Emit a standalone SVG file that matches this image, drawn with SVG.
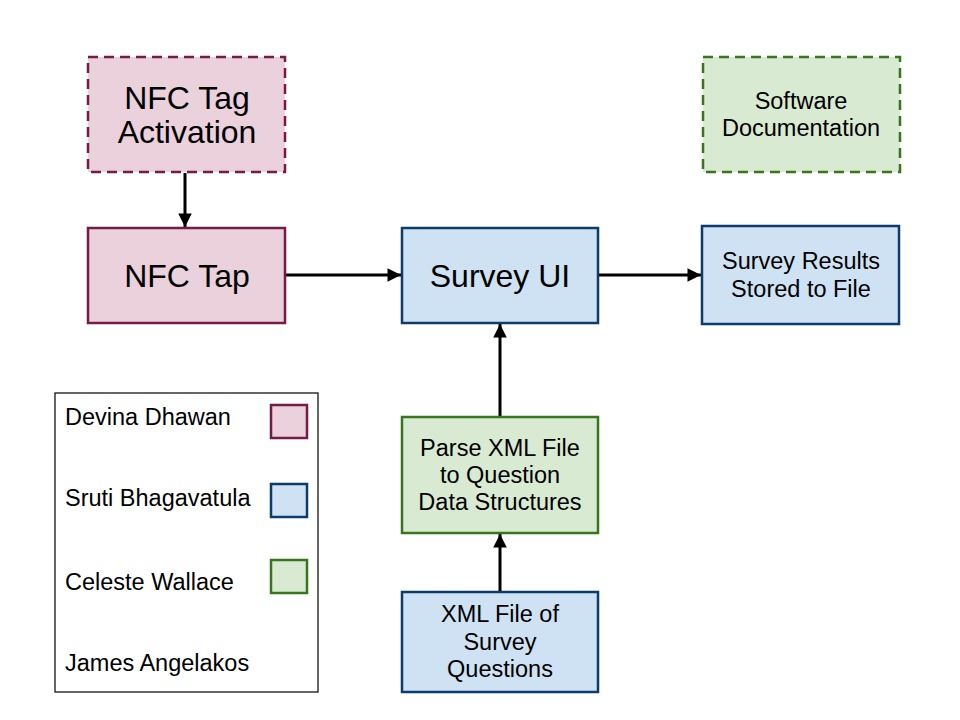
<svg xmlns="http://www.w3.org/2000/svg" width="960" height="720" viewBox="0 0 960 720">
<style>
text{font-family:"Liberation Sans",Arial,sans-serif;fill:#000;text-anchor:middle}
.big{font-size:32px}
.med{font-size:23.5px}
.leg{font-size:23.5px;text-anchor:start}
.pink{fill:#ead1dc;stroke:#741b47;stroke-width:2.5}
.blue{fill:#cfe2f3;stroke:#0b3c6b;stroke-width:2.5}
.green{fill:#d9ead3;stroke:#38761d;stroke-width:2.5}
.dash{stroke-dasharray:10,6}
.conn{stroke:#000;stroke-width:3;fill:none;marker-end:url(#ah)}
</style>
<defs>
<marker id="ah" viewBox="0 0 10 10" refX="10" refY="5" markerWidth="5" markerHeight="4.5" orient="auto" markerUnits="strokeWidth">
<path d="M0,0 L10,5 L0,10 z" fill="#000"/>
</marker>
</defs>
<rect width="960" height="720" fill="#fff"/>
<g id="connectors">
<line class="conn" x1="185" y1="173" x2="185" y2="227"/>
<line class="conn" x1="286" y1="275" x2="401" y2="275"/>
<line class="conn" x1="599" y1="275" x2="701" y2="275"/>
<line class="conn" x1="500" y1="416" x2="500" y2="324"/>
<line class="conn" x1="500" y1="591" x2="500" y2="534"/>
</g>
<g id="nfc-tag-activation">
<rect class="pink dash" x="88" y="57" width="197" height="115"/>
<text class="big" x="187" y="109">NFC Tag</text>
<text class="big" x="187" y="143">Activation</text>
</g>
<g id="nfc-tap">
<rect class="pink" x="88" y="228" width="197" height="95"/>
<text class="big" x="187" y="287">NFC Tap</text>
</g>
<g id="survey-ui">
<rect class="blue" x="402" y="228" width="196" height="95"/>
<text class="big" x="500" y="287">Survey UI</text>
</g>
<g id="survey-results">
<rect class="blue" x="702" y="226" width="197" height="98"/>
<text class="med" x="801" y="269">Survey Results</text>
<text class="med" x="801" y="297">Stored to File</text>
</g>
<g id="software-documentation">
<rect class="green dash" x="703" y="57" width="197" height="115"/>
<text class="med" x="801" y="109">Software</text>
<text class="med" x="801" y="136">Documentation</text>
</g>
<g id="parse-xml">
<rect class="green" x="402" y="417" width="196" height="116"/>
<text class="med" x="500" y="456">Parse XML File</text>
<text class="med" x="500" y="483">to Question</text>
<text class="med" x="500" y="510">Data Structures</text>
</g>
<g id="xml-file">
<rect class="blue" x="402" y="592" width="196" height="100"/>
<text class="med" x="500" y="622">XML File of</text>
<text class="med" x="500" y="650">Survey</text>
<text class="med" x="500" y="677">Questions</text>
</g>
<g id="legend">
<rect x="55" y="393" width="263" height="299" fill="#fff" stroke="#000" stroke-width="1.2"/>
<text class="leg" x="65" y="425">Devina Dhawan</text>
<rect class="pink" x="271" y="405" width="36" height="33" stroke-width="1.5"/>
<text class="leg" x="65" y="506">Sruti Bhagavatula</text>
<rect class="blue" x="271" y="484" width="36" height="33" stroke-width="1.5"/>
<text class="leg" x="65" y="590">Celeste Wallace</text>
<rect class="green" x="271" y="560" width="36" height="33" stroke-width="1.5"/>
<text class="leg" x="65" y="671">James Angelakos</text>
</g>
</svg>
